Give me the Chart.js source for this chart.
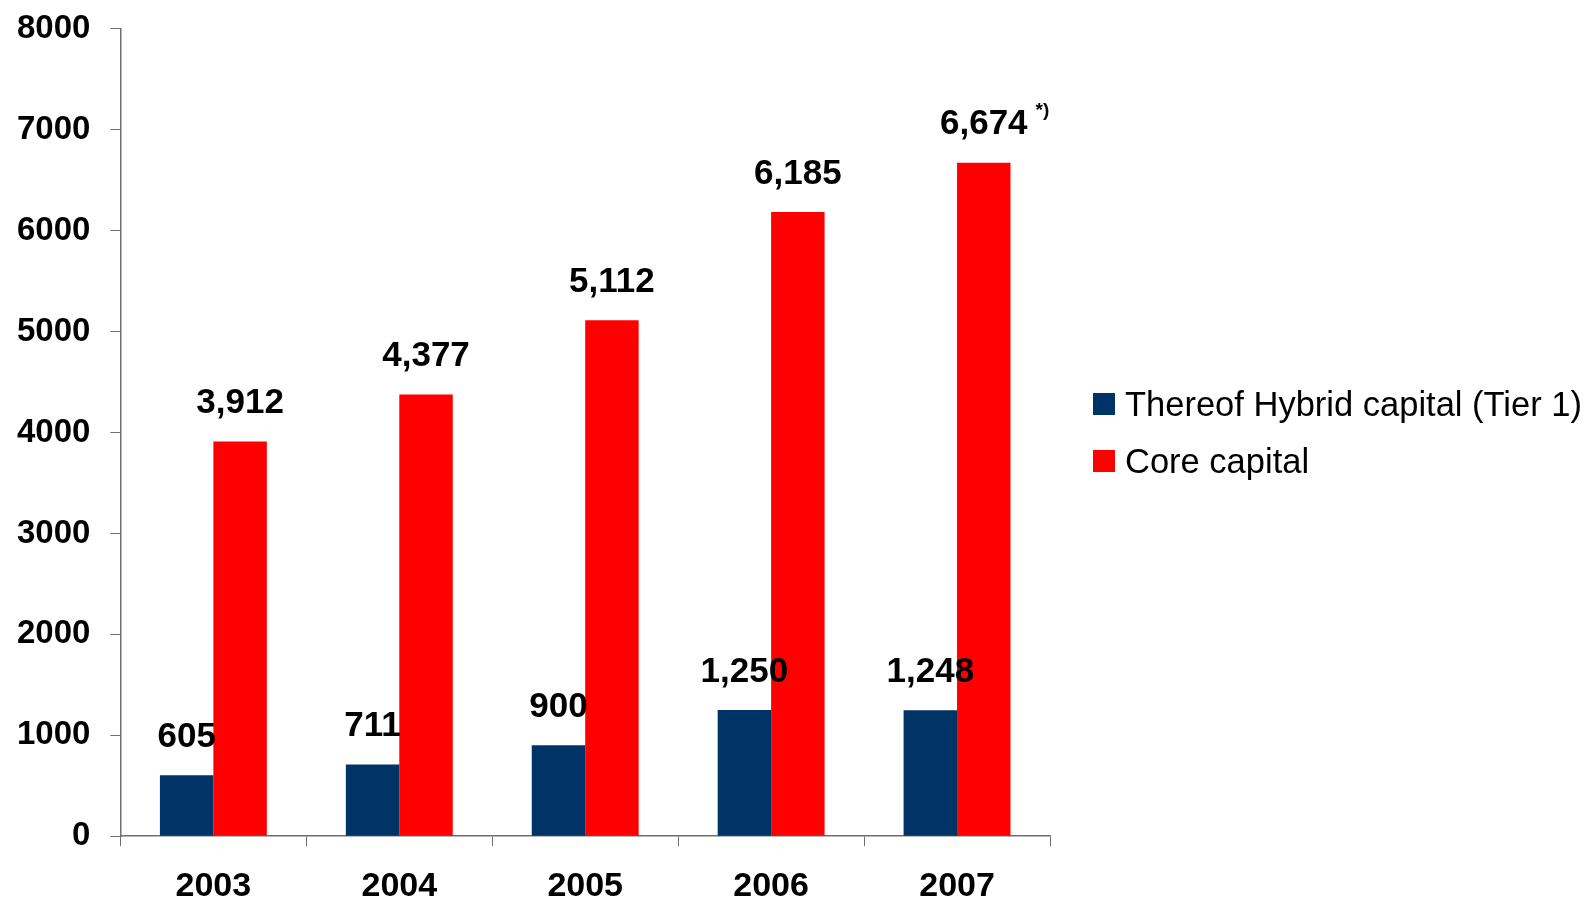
<!DOCTYPE html>
<html>
<head>
<meta charset="utf-8">
<script src="https://cdn.jsdelivr.net/npm/chart.js@4"></script>
<style>
  body { margin: 0; background: #fff; }
  #box { position: relative; width: 1592px; height: 904px; overflow: hidden; }
  #tela { position: absolute; left: 0; top: -11px; width: 1592px; height: 916px; }
  #legenda { position: absolute; left: 1093px; top: 382px; font-family: "Liberation Sans", Arial, sans-serif; font-size: 34.5px; color: #000; }
  .voce { height: 57px; line-height: 44px; display: flex; align-items: flex-start; white-space: nowrap; }
  .quadrato { width: 22px; height: 22px; margin-top: 11px; margin-right: 10px; flex: none; }
</style>
</head>
<body>
<div id="box">
  <div id="tela"><canvas id="grafico"></canvas></div>
  <div id="legenda"></div>
</div>
<script>
// dati
let anni = ["2003", "2004", "2005", "2006", "2007"];
let nomiSerie = ["Thereof Hybrid capital (Tier 1)", "Core capital"];
let ibrido = [605, 711, 900, 1250, 1248];
let core = [3912, 4377, 5112, 6185, 6674];
let noteCore = ["", "", "", "", "*)"];
let tickY = [0, 1000, 2000, 3000, 4000, 5000, 6000, 7000, 8000];
let colori = ["#003366", "#ff0000"];

let font = '"Liberation Sans", Arial, sans-serif';

// etichette sopra le barre
let etichette = {
  id: 'etichette',
  afterDatasetsDraw(chart) {
    let ctx = chart.ctx;
    ctx.save();
    ctx.fillStyle = '#000';
    ctx.textAlign = 'center';
    ctx.textBaseline = 'middle';
    chart.data.datasets.forEach((ds, i) => {
      let meta = chart.getDatasetMeta(i);
      meta.data.forEach((bar, j) => {
        let testo = ds.data[j].toLocaleString('en-US');
        ctx.font = 'bold 35px ' + font;
        ctx.fillText(testo, bar.x, bar.y - 38);
        let nota = ds.note ? ds.note[j] : "";
        if (nota) {
          let w = ctx.measureText(testo).width;
          ctx.font = 'bold 19px ' + font;
          ctx.textAlign = 'left';
          ctx.fillText(nota, bar.x + w / 2 + 8, bar.y - 52);
          ctx.textAlign = 'center';
        }
      });
    });
    ctx.restore();
  }
};

function creaLegenda() {
  let html = "";
  nomiSerie.forEach((nome, i) => {
    html += '<div class="voce"><span class="quadrato" style="background:' + colori[i] + '"></span><span>' + nome + '</span></div>';
  });
  document.getElementById("legenda").innerHTML = html;
}

function creaGrafico() {
  let ctx = document.getElementById("grafico");
  new Chart(ctx, {
    type: 'bar',
    data: {
      labels: anni,
      datasets: [
        { label: nomiSerie[0], data: ibrido, backgroundColor: colori[0] },
        { label: nomiSerie[1], data: core, backgroundColor: colori[1], note: noteCore }
      ]
    },
    options: {
      responsive: true,
      maintainAspectRatio: false,
      devicePixelRatio: 1,
      animation: false,
      layout: { padding: { top: 17, left: -3, right: 542, bottom: -22 } },
      plugins: { legend: { display: false }, tooltip: { enabled: false } },
      datasets: { bar: { categoryPercentage: 0.575, barPercentage: 1 } },
      scales: {
        x: {
          grid: { drawOnChartArea: false, tickLength: 10, color: '#6f6f6f' },
          border: { color: '#6f6f6f', width: 1.5 },
          ticks: { color: '#000', padding: 20, font: { family: font, size: 34, weight: 'bold' } }
        },
        y: {
          min: 0,
          max: 8000,
          afterBuildTicks: function(scale) { scale.ticks = tickY.map(v => ({ value: v })); },
          grid: { drawOnChartArea: false, tickLength: 10, color: '#6f6f6f' },
          border: { color: '#6f6f6f', width: 1.5 },
          ticks: { color: '#000', padding: 20, font: { family: font, size: 33, weight: 'bold' },
                   callback: v => String(v) }
        }
      }
    },
    plugins: [etichette]
  });
}

creaLegenda();
creaGrafico();
</script>
</body>
</html>
